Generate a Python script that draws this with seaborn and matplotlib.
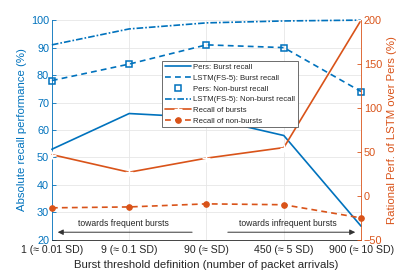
import matplotlib
matplotlib.use("Agg")
import matplotlib.pyplot as plt
import seaborn as sns
import pandas as pd
import numpy as np

sns.set_style("white")
plt.rcParams['font.family'] = ['Liberation Sans', 'DejaVu Sans']

categories = ["1 (≈ 0.01 SD)", "9 (≈ 0.1 SD)", "90 (≈ SD)", "450 (≈ 5 SD)", "900 (≈ 10 SD)"]
pers_burst = [53, 66, 64.5, 58, 25]
lstm_burst = [78, 84, 91, 90, 74]
pers_nonburst = [78, 84, 91, 90, 74]
lstm_nonburst = [91, 96.8, 99, 99.7, 100]
rel_bursts = [47, 27, 43, 55, 200]
rel_nonbursts = [-13.5, -12.5, -9, -10, -25]

BLUE = "#0072BD"
ORANGE = "#D95319"

xpos = list(range(len(categories)))
df = pd.DataFrame({"x": xpos, "pb": pers_burst, "lb": lstm_burst, "pn": pers_nonburst,
                   "ln": lstm_nonburst, "rb": rel_bursts, "rn": rel_nonbursts})

fig = plt.figure(figsize=(3.99, 2.72), dpi=100)
ax = fig.add_axes([0.130, 0.118, 0.775, 0.808])
ax2 = ax.twinx()

lw = 1.2
sns.lineplot(data=df, x="x", y="pb", ax=ax, color=BLUE, lw=lw, label="Pers: Burst recall", legend=False)
sns.lineplot(data=df, x="x", y="lb", ax=ax, color=BLUE, lw=lw, linestyle=(0, (3.5, 2.5)), label="LSTM(FS-5): Burst recall", legend=False)
sns.lineplot(data=df, x="x", y="pn", ax=ax, color=BLUE, lw=0, marker="s", markersize=4,
             markerfacecolor="none", markeredgecolor=BLUE, markeredgewidth=1.1, label="Pers: Non-burst recall", legend=False)
sns.lineplot(data=df, x="x", y="ln", ax=ax, color=BLUE, lw=lw, linestyle=(0, (4, 1.2, 1, 1.2)), label="LSTM(FS-5): Non-burst recall", legend=False)
sns.lineplot(data=df, x="x", y="rb", ax=ax2, color=ORANGE, lw=lw, marker="+", markersize=6, markeredgewidth=1.0,
             label="Recall of bursts", legend=False)
sns.lineplot(data=df, x="x", y="rn", ax=ax2, color=ORANGE, lw=lw, linestyle=(0, (3.5, 2.5)), marker="o", markersize=4,
             markeredgecolor=ORANGE, label="Recall of non-bursts", legend=False)
for a in (ax, ax2):
    for l in a.lines:
        l.set_clip_on(False)

ax.set_xlim(0, 4)
ax.set_ylim(20, 100)
ax2.set_ylim(-50, 200)
ax.set_xticks(xpos)
ax.set_xticklabels(categories)
ax.set_yticks(range(20, 101, 10))
ax2.set_yticks(range(-50, 201, 50))
ax.grid(True, color="#e6e6e6", lw=0.6)
ax.set_axisbelow(True)

ax.tick_params(axis="y", colors=BLUE, labelsize=7.8, direction="in", length=3, width=0.6, pad=2)
ax.tick_params(axis="x", colors="#262626", labelsize=7.6, direction="in", length=3, width=0.6, pad=4)
ax2.tick_params(axis="y", colors=ORANGE, labelsize=7.8, direction="in", length=3, width=0.6, pad=2)
for t in ax.get_yticklabels():
    t.set_color(BLUE)
for t in ax2.get_yticklabels():
    t.set_color(ORANGE)

ax.spines["top"].set_visible(False)
ax2.spines["top"].set_visible(False)
ax2.spines["left"].set_visible(False)
ax2.spines["bottom"].set_visible(False)
ax.spines["right"].set_visible(False)
ax.spines["left"].set_color(BLUE)
ax2.spines["right"].set_color(ORANGE)
ax.spines["bottom"].set_color("#262626")
for s in ("left", "bottom"):
    ax.spines[s].set_linewidth(0.6)
ax2.spines["right"].set_linewidth(0.6)

ax.set_xlabel("Burst threshold definition (number of packet arrivals)", fontsize=8.2, color="#262626", labelpad=3)
ax.set_ylabel("Absolute recall performance (%)", fontsize=8.2, color=BLUE, labelpad=3)
ax2.set_ylabel("Rational Perf. of LSTM over Pers (%)", fontsize=8.2, color=ORANGE, labelpad=3)

# annotations with arrows
ax.annotate("", xy=(0.04, 22.8), xytext=(1.85, 22.8),
            arrowprops=dict(arrowstyle="-|>", color="#333333", lw=0.7, mutation_scale=8))
ax.text(0.92, 26.0, "towards frequent bursts", fontsize=6.2, ha="center", va="center", color="#262626")
ax.annotate("", xy=(3.96, 22.8), xytext=(2.24, 22.8),
            arrowprops=dict(arrowstyle="-|>", color="#333333", lw=0.7, mutation_scale=8))
ax.text(3.05, 26.0, "towards infrequent bursts", fontsize=6.2, ha="center", va="center", color="#262626")

h1, l1 = ax.get_legend_handles_labels()
h2, l2 = ax2.get_legend_handles_labels()
leg = ax2.legend(h1 + h2, l1 + l2, loc="upper left", bbox_to_anchor=(0.356, 0.814), fontsize=5.6,
                 frameon=True, fancybox=False, edgecolor="#555555", framealpha=1,
                 handlelength=3.4, handletextpad=0.3, borderpad=0.35, labelspacing=0.42, borderaxespad=0)
leg.get_frame().set_linewidth(0.6)

fig.savefig("out.png", dpi=100)
